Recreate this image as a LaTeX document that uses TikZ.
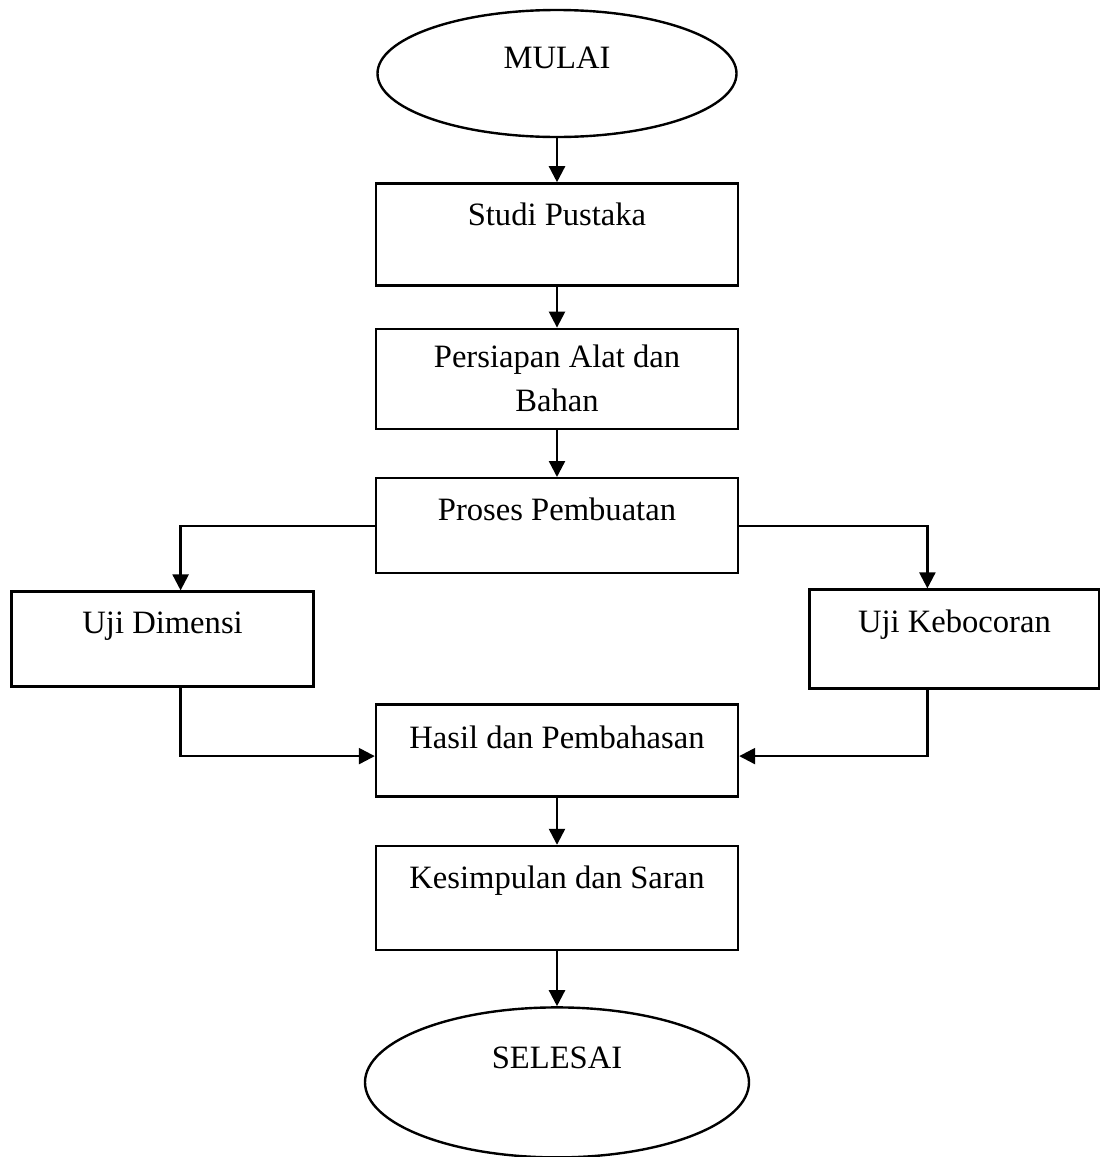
\documentclass[tikz,border=0pt]{standalone}
\usepackage{fontspec}
\setmainfont{Liberation Serif}
\usepackage{tikz}
\usetikzlibrary{arrows.meta,positioning,shapes.geometric}
\tikzset{
  flowbox/.style={
    rectangle, draw=black, line width=1.2pt,
    minimum width=181pt, minimum height=#1,
    font=\fontsize{16.3pt}{22pt}\selectfont,
    inner sep=2pt
  },
  flowbox/.default=50pt,
  termnode/.style={
    ellipse, draw=black, line width=1.2pt,
    font=\fontsize{16.3pt}{22pt}\selectfont,
    inner sep=0pt
  },
  uppertext/.style={
    text height=11pt, text depth=#1
  },
  uppertext/.default=16.5pt,
  flowarrow/.style={
    -{Triangle[length=8pt,width=8pt]}, line width=1.2pt, color=black
  },
}
\begin{document}
\begin{tikzpicture}
  \useasboundingbox (0,0) rectangle (549.5pt,-578.5pt);

  % main column
  \node[termnode, uppertext, minimum width=179.5pt, minimum height=63.5pt]
    (mulai) at (278.5pt,-36.75pt) {MULAI};
  \node[flowbox=51pt, uppertext=20pt, below=22pt of mulai] (studi) {Studi Pustaka};
  \node[flowbox=50pt, align=center, below=20.5pt of studi]
    (persiapan) {Persiapan Alat dan\\Bahan};
  \node[flowbox=47.5pt, uppertext, below=23.5pt of persiapan] (proses) {Proses Pembuatan};

  % test branches
  \node[flowbox=47.5pt, uppertext, minimum width=151pt,
    below left=8pt and 30pt of proses] (dimensi) {Uji Dimensi};
  \node[flowbox=49.5pt, uppertext=17.5pt, minimum width=145pt,
    below right=7pt and 34.5pt of proses] (kebocoran) {Uji Kebocoran};

  \node[flowbox=46pt, uppertext=13.5pt, below=64.5pt of proses] (hasil) {Hasil dan Pembahasan};
  \node[flowbox=52pt, uppertext=21pt, below=23.5pt of hasil] (kesimpulan) {Kesimpulan dan Saran};
  \node[termnode, uppertext=25pt, minimum width=192pt, minimum height=75pt,
    below=27.5pt of kesimpulan] (selesai) {SELESAI};

  \draw[flowarrow] (mulai) -- (studi);
  \draw[flowarrow] (studi) -- (persiapan);
  \draw[flowarrow] (persiapan) -- (proses);
  \draw[flowarrow] (proses.west) -| ([xshift=9pt]dimensi.north);
  \draw[flowarrow] (proses.east) -| ([xshift=-13.5pt]kebocoran.north);
  \draw[flowarrow] ([xshift=9pt]dimensi.south) |- ([yshift=-2.75pt]hasil.west);
  \draw[flowarrow] ([xshift=-13.5pt]kebocoran.south) |- ([yshift=-2.75pt]hasil.east);
  \draw[flowarrow] (hasil) -- (kesimpulan);
  \draw[flowarrow] (kesimpulan) -- (selesai);
\end{tikzpicture}
\end{document}
